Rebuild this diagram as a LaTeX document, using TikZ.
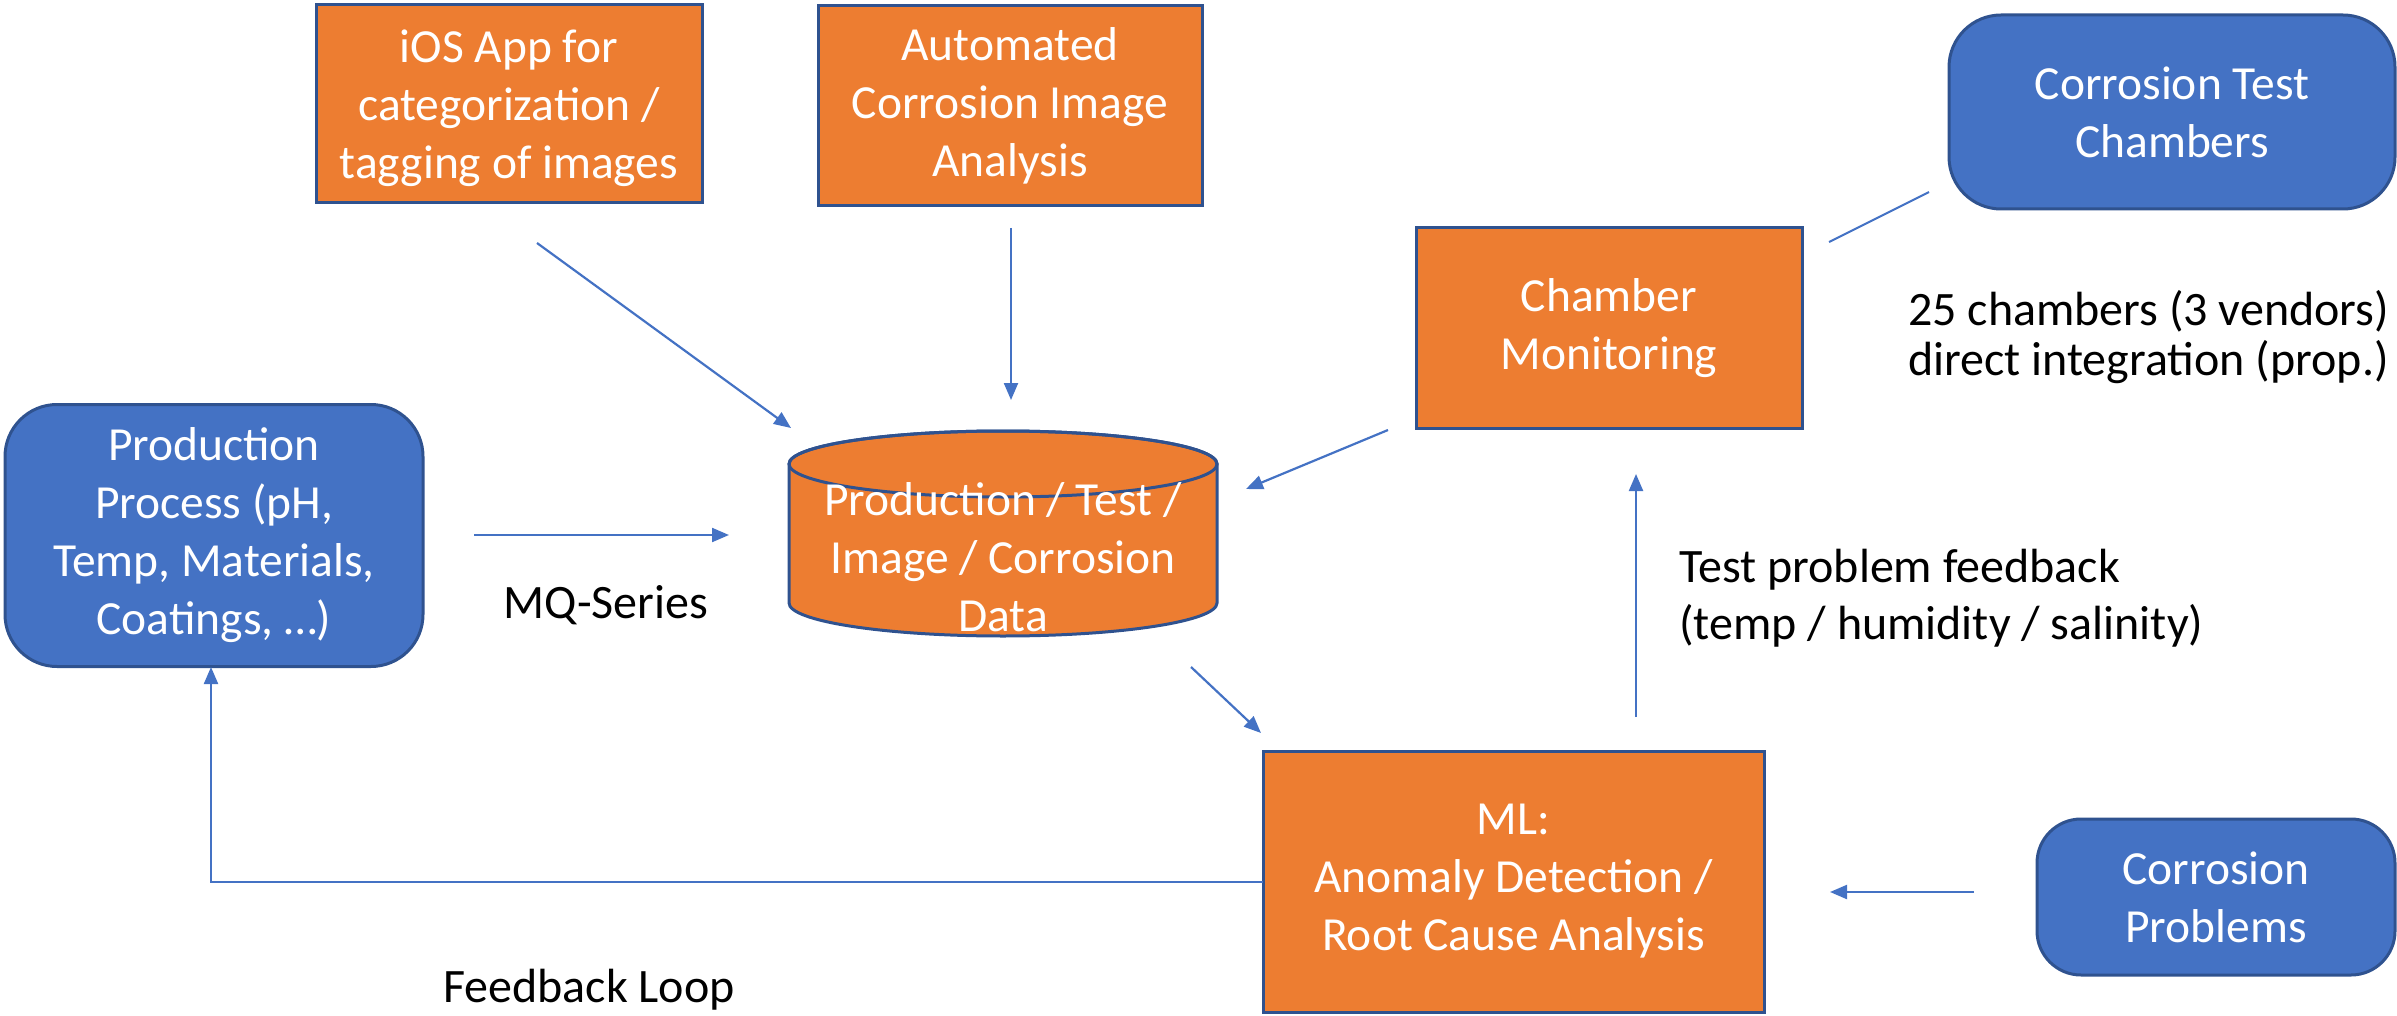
\documentclass[tikz,border=0pt]{standalone}
\usepackage{fontspec}
\setmainfont{Carlito}
\usetikzlibrary{arrows.meta}
\definecolor{orng}{HTML}{ED7D31}
\definecolor{blu}{HTML}{4472C4}
\definecolor{bord}{HTML}{2F528F}
\tikzset{
  txt/.style={font=\fontsize{47.5}{58}\selectfont, align=center, inner sep=0pt},
  obox/.style={txt, draw=bord, line width=3pt, fill=orng, text=white},
  bbox/.style={txt, draw=bord, line width=3pt, fill=blu, text=white, rounded corners=52pt},
  lbl/.style={txt, font=\fontsize{48}{57}\selectfont, text=black},
  arr/.style={draw=blu, line width=2.2pt, -{Triangle[length=17pt,width=14pt]}},
  ln/.style={draw=blu, line width=2pt},
}
\begin{document}
\begin{tikzpicture}[x=1pt,y=-1pt]
\useasboundingbox (0,0) rectangle (2397,1016);
% boxes
\node[obox, minimum width=386pt, minimum height=198pt, text depth=0pt] (ios) at (509,104) {iOS App for\\categorization /\\tagging of images};
\node[obox, minimum width=384pt, minimum height=200pt] (auto) at (1010,106) {Automated\\Corrosion Image\\Analysis};
\node[bbox, minimum width=446pt, minimum height=194pt] (ctc) at (2172,112) {Corrosion Test\\Chambers};
\node[obox, minimum width=386pt, minimum height=200pt] (cm) at (1609,328) {Chamber\\Monitoring};
\node[bbox, minimum width=418pt, minimum height=262pt] (pp) at (214,535.5) {Production\\Process (pH,\\Temp, Materials,\\Coatings, \dots)};
\node[obox, minimum width=501pt, minimum height=261pt] (ml) at (1513.5,881.5) {ML:\\Anomaly Detection /\\Root Cause Analysis};
\node[bbox, rounded corners=44pt, minimum width=358pt, minimum height=156pt] (cp) at (2216,897) {Corrosion\\Problems};
% cylinder
\filldraw[fill=orng, draw=bord, line width=3pt]
  (789,464) -- (789,603) arc[start angle=180, end angle=360, x radius=214pt, y radius=33pt]
  -- (1217,464) arc[start angle=0, end angle=180, x radius=214pt, y radius=33pt] -- cycle;
\draw[draw=bord, line width=3pt] (1003,464) ellipse[x radius=214pt, y radius=33pt];
\node[txt, text=white] (cyl) at (1003,557) {Production / Test /\\Image / Corrosion\\Data};
% labels
\node[lbl] (mq) at (606,605) {MQ-Series};
\node[lbl, font=\fontsize{48}{50}\selectfont, anchor=west, align=left] (chl) at (1908,337) {25 chambers (3 vendors)\\direct integration (prop.)};
\node[lbl, anchor=west, align=left] (tpf) at (1679,598) {Test problem feedback\\(temp / humidity / salinity)};
\node[lbl] (fbl) at (589,990) {Feedback Loop};
% connector endpoints
\coordinate (iosA) at (537,243);  \coordinate (iosB) at (791,428);
\coordinate (autA) at (1011,228); \coordinate (autB) at (1011,400);
\coordinate (mqA) at (474,535);   \coordinate (mqB) at (729,535);
\coordinate (cmA) at (1388,430);  \coordinate (cmB) at (1246,489);
\coordinate (cyA) at (1191,667);  \coordinate (cyB) at (1261,733);
\coordinate (mlA) at (1636,717);  \coordinate (mlB) at (1636,474);
\coordinate (cpA) at (1974,892);  \coordinate (cpB) at (1830,892);
\coordinate (ctA) at (1829,242);  \coordinate (ctB) at (1929,192);
\coordinate (fbA) at (1263,882);  \coordinate (fbC) at (211,882);  \coordinate (fbB) at (211,667);
% connectors
\draw[arr] (iosA) -- (iosB);
\draw[arr] (autA) -- (autB);
\draw[arr] (mqA) -- (mqB);
\draw[arr] (cmA) -- (cmB);
\draw[arr] (cyA) -- (cyB);
\draw[arr] (mlA) -- (mlB);
\draw[arr] (cpA) -- (cpB);
\draw[ln] (ctA) -- (ctB);
\draw[arr] (fbA) -- (fbC) -- (fbB);
\end{tikzpicture}
\end{document}
